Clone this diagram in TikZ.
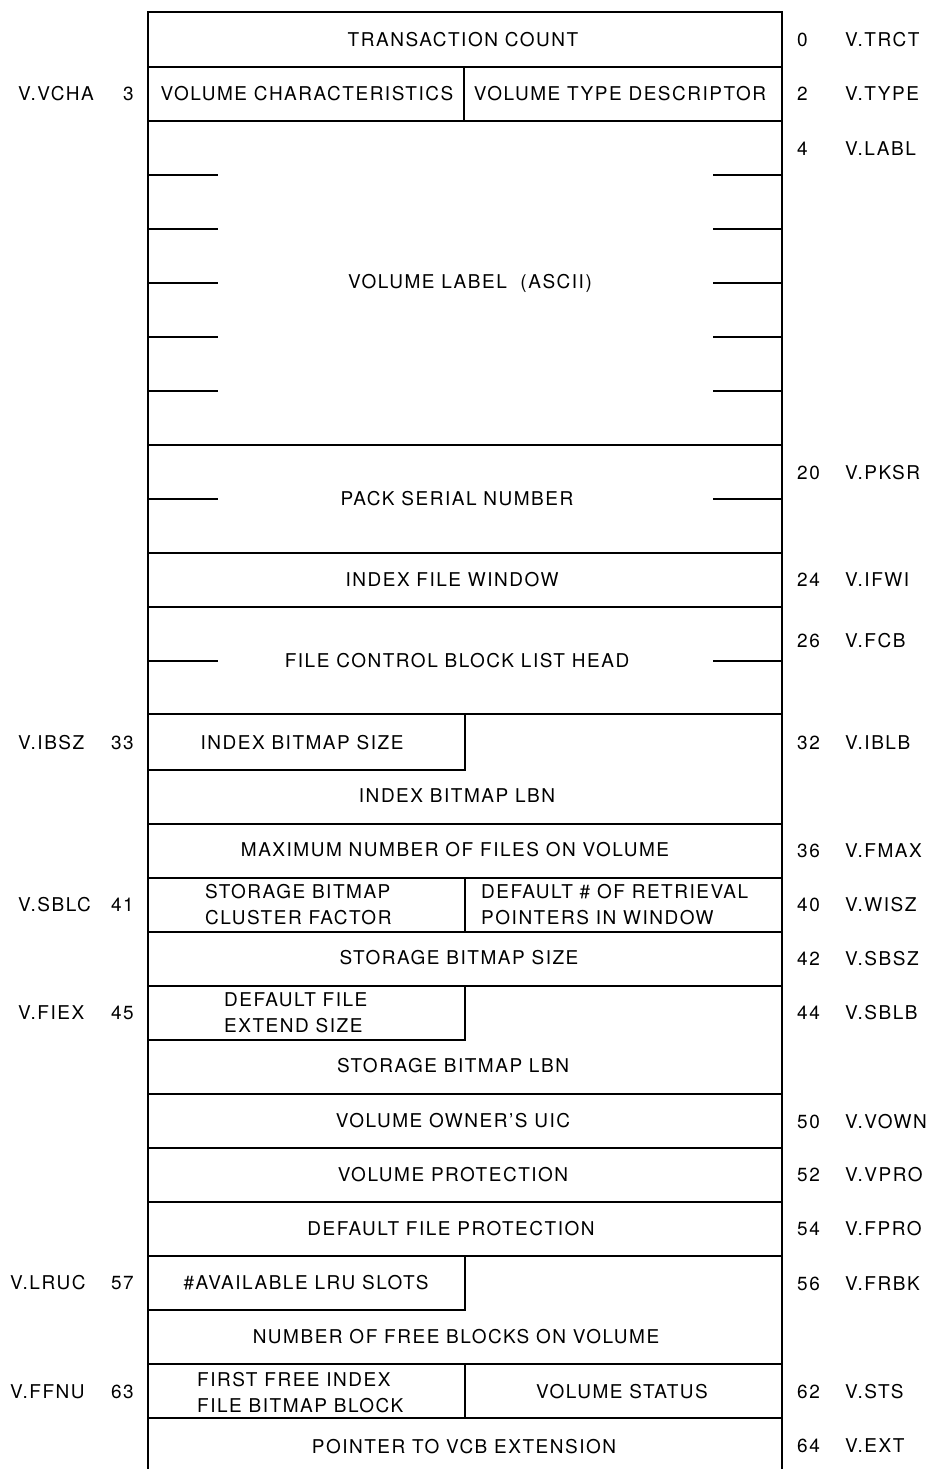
\documentclass[tikz,border=0pt]{standalone}
\usepackage{fontspec}
\setmainfont{TeX Gyre Heros}[LetterSpace=8]
\begin{document}
\begin{tikzpicture}[x=1pt,y=-1pt,
  rule/.style={line width=2.2pt,black},
  field/.style={font=\fontsize{19}{26}\selectfont,inner sep=0pt},
  twoline/.style={field,align=left,anchor=west},
  tag/.style={font=\fontsize{19}{26}\selectfont,inner sep=0pt,anchor=west},
  tagr/.style={font=\fontsize{19}{26}\selectfont,inner sep=0pt,anchor=east}]
\useasboundingbox (0,0) rectangle (930,1469);
% frame
\draw[rule,line join=miter] (148,1469) -- (148,12) -- (782,12) -- (782,1469);
% full-width dividers
\foreach \y in {67,121,445,553,607,714,824,878,932,986,1094,1148,1202,1256,1364,1418}
  \draw[rule] (148,\y) -- (782,\y);
% vertical dividers of split words
\draw[rule] (464,67) -- (464,121);
\draw[rule] (465,878) -- (465,932);
\draw[rule] (465,1364) -- (465,1418);
% half-width byte boxes
\draw[rule] (465,714) -- (465,770) -- (148,770);
\draw[rule] (465,986) -- (465,1040) -- (148,1040);
\draw[rule] (465,1256) -- (465,1310) -- (148,1310);
% ticks marking multi-word fields
\foreach \y in {175,229,283,337,391,499,661} {
  \draw[rule] (148,\y) -- (218,\y);
  \draw[rule] (713,\y) -- (782,\y);
}
% field texts
\node[field] (trct) at (463,40) {TRANSACTION COUNT};
\node[field] (vcha) at (307,94) {VOLUME CHARACTERISTICS};
\node[field] (type) at (620,94) {VOLUME TYPE DESCRIPTOR};
\node[field] (labl) at (470,283) {VOLUME LABEL\ \ (ASCII)};
\node[field] (pksr) at (457,499) {PACK SERIAL NUMBER};
\node[field] (ifwi) at (452,580) {INDEX FILE WINDOW};
\node[field] (fcb) at (457,661) {FILE CONTROL BLOCK LIST HEAD};
\node[field] (ibsz) at (302,743) {INDEX BITMAP SIZE};
\node[field] (iblb) at (457,796) {INDEX BITMAP LBN};
\node[field] (fmax) at (455,850) {MAXIMUM NUMBER OF FILES ON VOLUME};
\node[twoline] (sblc) at (205,905) {STORAGE BITMAP\\CLUSTER FACTOR};
\node[twoline] (wisz) at (481,905) {DEFAULT \# OF RETRIEVAL\\POINTERS IN WINDOW};
\node[field] (sbsz) at (459,958) {STORAGE BITMAP SIZE};
\node[twoline] (fiex) at (224,1013) {DEFAULT FILE\\EXTEND SIZE};
\node[field] (sblb) at (453,1066) {STORAGE BITMAP LBN};
\node[field] (vown) at (453,1121) {VOLUME OWNER'S UIC};
\node[field] (vpro) at (453,1175) {VOLUME PROTECTION};
\node[field] (fpro) at (451,1229) {DEFAULT FILE PROTECTION};
\node[field] (lruc) at (306,1283) {\#AVAILABLE LRU SLOTS};
\node[field] (frbk) at (456,1337) {NUMBER OF FREE BLOCKS ON VOLUME};
\node[twoline] (ffnu) at (197,1393) {FIRST FREE INDEX\\FILE BITMAP BLOCK};
\node[field] (sts) at (622,1392) {VOLUME STATUS};
\node[field] (ext) at (464,1447) {POINTER TO VCB EXTENSION};
% right-hand offsets and symbols
\foreach \n/\s/\y [count=\k] in {0/V.TRCT/40,2/V.TYPE/94,4/V.LABL/149,20/V.PKSR/473,
  24/V.IFWI/580,26/V.FCB/641,32/V.IBLB/743,36/V.FMAX/851,40/V.WISZ/905,
  42/V.SBSZ/959,44/V.SBLB/1013,50/V.VOWN/1122,52/V.VPRO/1175,54/V.FPRO/1229,
  56/V.FRBK/1284,62/V.STS/1392,64/V.EXT/1446} {
  \node[tag] (ro\k) at (797,\y) {\n};
  \node[tag] (rs\k) at (845,\y) {\s};
}
% left-hand symbols and offsets
\foreach \s/\n/\y/\x [count=\k] in {V.VCHA/3/94/18,V.IBSZ/33/743/18,V.SBLC/41/905/18,
  V.FIEX/45/1013/18,V.LRUC/57/1283/10,V.FFNU/63/1392/10} {
  \node[tag] (ls\k) at (\x,\y) {\s};
  \node[tagr] (lo\k) at (134,\y) {\n};
}
\end{tikzpicture}
\end{document}
